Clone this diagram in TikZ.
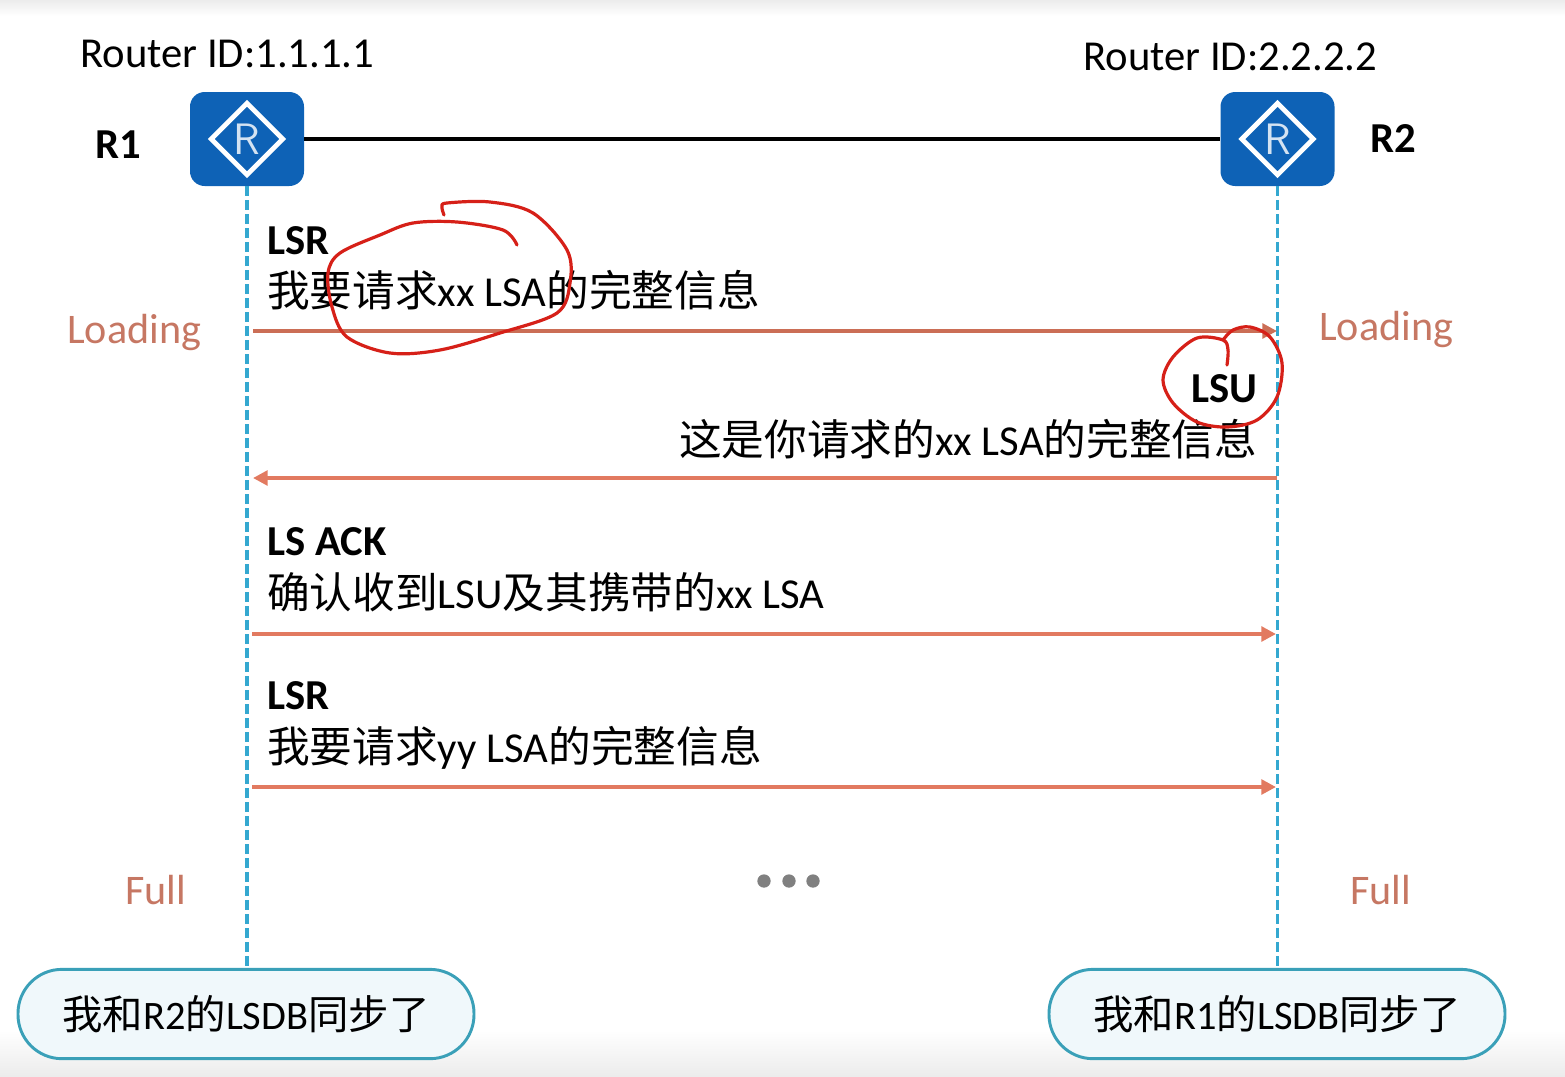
\documentclass[tikz,border=0pt]{standalone}
\usepackage{fontspec}
\setmainfont{Carlito}
\newfontfamily\cjk{Noto Sans CJK SC}[Scale=1]
\usetikzlibrary{shapes.geometric,arrows.meta}
\definecolor{lifeblue}{RGB}{52,168,208}
\definecolor{msgred}{RGB}{226,122,96}
\definecolor{routerblue}{RGB}{14,98,182}
\definecolor{inkred}{RGB}{214,32,24}
\definecolor{pillfill}{RGB}{240,248,251}
\definecolor{pillline}{RGB}{58,160,184}
\definecolor{edgegrey}{RGB}{236,236,236}
\tikzset{
  lbl/.style={anchor=base west,inner sep=0pt,font=\fontsize{32}{34}\selectfont},
  lblbold/.style={lbl,font=\fontsize{32}{34}\selectfont\bfseries},
  state/.style={lbl,font=\fontsize{31.6}{34}\selectfont,text=msgred!85!black!90},
  routerbox/.style={draw=none,fill=routerblue,rounded corners=11pt,minimum width=85.5pt,minimum height=70.5pt,inner sep=0pt},
  routermark/.style={diamond,draw=white,line width=3.6pt,minimum width=55pt,minimum height=55pt,inner sep=0pt,aspect=1,text=white!82!routerblue,font=\fontsize{33}{34}\selectfont\sffamily},
  pill/.style={draw=pillline,fill=pillfill,line width=2.2pt,rounded corners=33pt,minimum width=342pt,minimum height=67pt,inner sep=0pt,font=\fontsize{30.3}{32}\selectfont},
  lifeline/.style={draw=lifeblue,line width=2.7pt,dash pattern=on 7.5pt off 3pt},
  msg/.style={draw=msgred,line width=2.7pt,-{Triangle[length=11pt,width=11pt]}},
  ink/.style={draw=inkred,line width=2.4pt,line cap=round,line join=round},
  dotmark/.style={circle,fill=black!50,minimum size=10pt,inner sep=0pt}
}
\newcommand{\zh}[1]{{\cjk #1}}

\begin{document}
\begin{tikzpicture}[x=0.75pt,y=0.75pt,yscale=-1,xscale=1]
\useasboundingbox (0,0) rectangle (1565,1076);

% Page edges
\shade [top color=edgegrey,bottom color=white] (0,0) rectangle (1565,16);
\shade [top color=white,bottom color=edgegrey] (0,1030) rectangle (1565,1076);

% Routers
\node [routerbox] (boxA) at (247,139) {};
\node [routerbox] (boxB) at (1277.5,139) {};
\node [routermark] (markA) at (247,139) {R};
\node [routermark] (markB) at (1277.5,139) {R};

% Bubbles
\node [pill] (pillA) at (246,1014) {\zh{我和}R2\zh{的}LSDB\zh{同步了}};
\node [pill] (pillB) at (1277,1014) {\zh{我和}R1\zh{的}LSDB\zh{同步了}};

% Link and lifelines
\draw [line width=2.3pt] (boxA) -- (boxB);
\draw [lifeline] (boxA.south) -- (boxA.south |- pillA.north);
\draw [lifeline] (boxB.south) -- (boxB.south |- pillB.north);

% Arrow ends
\coordinate (a1) at (253,331); \coordinate (b1) at (1277,331);
\coordinate (b2) at (1277,478); \coordinate (a2) at (253,478);
\coordinate (a3) at (252,634); \coordinate (b3) at (1276,634);
\coordinate (a4) at (252,787); \coordinate (b4) at (1276,787);

\draw [msg,line width=3.4pt,draw=msgred!90!black] (a1) -- (b1);
\draw [msg] (b2) -- (a2);
\draw [msg] (a3) -- (b3);
\draw [msg] (a4) -- (b4);

% Text Node
\node [lbl] (idA) at (80,67) {Router ID:1.1.1.1};
\node [lbl] (idB) at (1083,70) {Router ID:2.2.2.2};
\node [lblbold] (nameA) at (95,158) {R1};
\node [lblbold] (nameB) at (1370,152) {R2};
\node [state] (loadA) at (67,343) {Loading};
\node [state] (loadB) at (1319,340) {Loading};
\node [state] (fullA) at (125,904) {Full};
\node [state] (fullB) at (1350,904) {Full};

% Text Node
\node [lblbold] (lsrA) at (267,254) {LSR};
\node [lbl] (reqA) at (267,306) {\zh{我要请求}xx LSA\zh{的完整信息}};
\node [lblbold] (lsu) at (1191,402) {LSU};
\node [lbl] (ansA) at (679,455) {\zh{这是你请求的}xx LSA\zh{的完整信息}};
\node [lblbold] (ack) at (267,555) {LS ACK};
\node [lbl] (ackTxt) at (267,608) {\zh{确认收到}LSU\zh{及其携带的}xx LSA};
\node [lblbold] (lsrB) at (267,709) {LSR};
\node [lbl] (reqB) at (267,762) {\zh{我要请求}yy LSA\zh{的完整信息}};

% Dots
\node [dotmark] (dotA) at (764,881) {};
\node [dotmark] (dotB) at (789,881) {};
\node [dotmark] (dotC) at (813,881) {};

% Red marks
\draw [ink] plot [smooth,tension=0.55] coordinates {(517,245) (503,230) (457,222) (413,223) (380,235) (340,253) (328,273) (332,307) (347,337) (390,353) (440,350) (500,333) (557,313) (570,283) (567,250) (533,213) (490,202) (447,203) (442,207) (444,215)};
\draw [ink] plot [smooth,tension=0.55] coordinates {(1227,365) (1228,350) (1223,340) (1197,338) (1173,357) (1163,380) (1173,403) (1197,422) (1227,427) (1257,420) (1277,397) (1282,363) (1270,337) (1250,327) (1233,330) (1223,340)};

\end{tikzpicture}
\end{document}
